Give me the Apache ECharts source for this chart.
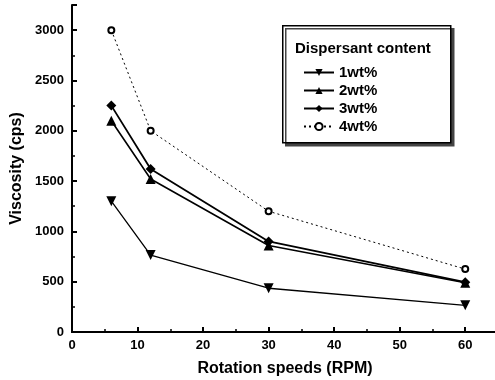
<!DOCTYPE html>
<html><head><meta charset="utf-8">
<script src="https://cdn.jsdelivr.net/npm/echarts@6/dist/echarts.min.js"></script>
<style>html,body{margin:0;padding:0;background:#fff}#c{width:495px;height:380px}</style>
</head><body><div id="c"></div>
<script>
const speeds = [6, 12, 30, 60];
const seriesNames = ['1wt%', '2wt%', '3wt%', '4wt%'];
const v1 = [1300, 765, 435, 265];
const v2 = [2100, 1520, 860, 490];
const v3 = [2250, 1620, 900, 495];
const v4 = [3000, 2000, 1200, 625];
const xTitle = 'Rotation speeds (RPM)';
const yTitle = 'Viscosity (cps)';
const legendTitle = 'Dispersant content';

const F = 'Liberation Sans, Arial, sans-serif';
const chart = echarts.init(document.getElementById('c'));
function pts(v){ return speeds.map((s,i)=>[s, v[i]]); }
const axisCommon = {
  axisLine:{show:true,onZero:false,lineStyle:{color:'#000',width:2}},
  axisTick:{show:true,inside:true,length:5,lineStyle:{color:'#000',width:2}},
  minorTick:{show:true,splitNumber:2,length:3,lineStyle:{color:'#000',width:1.5}},
  splitLine:{show:false},
  axisLabel:{color:'#000',fontFamily:F,fontWeight:'bold',fontSize:13}
};
chart.setOption({
  animation:false,
  grid:{left:72,top:5,right:-3,bottom:48,containLabel:false,outerBoundsMode:'none'},
  xAxis:[Object.assign({type:'value',min:0,max:65,interval:10,
    name:xTitle,nameLocation:'middle',nameGap:29,
    nameTextStyle:{color:'#000',fontFamily:F,fontWeight:'bold',fontSize:16}},axisCommon,
    {axisLabel:Object.assign({},axisCommon.axisLabel,{margin:7,formatter:v=>v<=60?v:''})}),
    {type:'value',position:'top',min:0,max:65,axisLine:{show:true,lineStyle:{color:'#000',width:2}},
     axisTick:{show:false},axisLabel:{show:false},splitLine:{show:false}}],
  yAxis:Object.assign({type:'value',min:0,max:3250,interval:500,
    name:yTitle,nameLocation:'middle',nameGap:47,
    nameTextStyle:{color:'#000',fontFamily:F,fontWeight:'bold',fontSize:16}},axisCommon,
    {axisLabel:Object.assign({},axisCommon.axisLabel,{margin:8,formatter:v=>v<=3000?v:''})}),
  legend:{left:298,top:60,orient:'vertical',itemGap:3,itemWidth:30,itemHeight:9,
    textStyle:{color:'#000',fontFamily:F,fontWeight:'bold',fontSize:15},
    data:seriesNames},
  graphic:[
    {type:'rect',left:282,top:25,z:0,shape:{width:168,height:117},
      style:{fill:'#fff',stroke:'#000',lineWidth:1.5,shadowColor:'#444',shadowOffsetX:3,shadowOffsetY:3,shadowBlur:0}},
    {type:'text',left:295,top:41,z:1,style:{text:legendTitle,fill:'#000',font:'bold 15px '+F}}
  ],
  series:[
    {name:seriesNames[0],type:'line',data:pts(v1),symbol:'triangle',symbolRotate:180,symbolSize:10,
      lineStyle:{color:'#000',width:1.3},itemStyle:{color:'#000'}},
    {name:seriesNames[1],type:'line',data:pts(v2),symbol:'triangle',symbolSize:10,
      lineStyle:{color:'#000',width:1.6},itemStyle:{color:'#000'}},
    {name:seriesNames[2],type:'line',data:pts(v3),symbol:'diamond',symbolSize:10,
      lineStyle:{color:'#000',width:1.8},itemStyle:{color:'#000'}},
    {name:seriesNames[3],type:'line',data:pts(v4),symbol:'emptyCircle',symbolSize:6,showSymbol:true,
      lineStyle:{color:'#000',width:1,type:[2,3]},itemStyle:{color:'#000',borderWidth:1.5}}
  ]
});
</script></body></html>
